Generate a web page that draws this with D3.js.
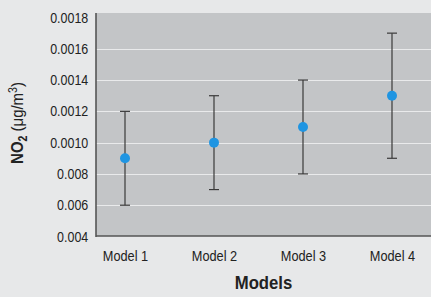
<!DOCTYPE html>
<html>
<head>
<meta charset="utf-8">
<script src="https://cdn.jsdelivr.net/npm/d3@7"></script>
<style>
  html, body { margin: 0; padding: 0; background: #e7e8e9; }
  svg { display: block; }
  text { font-family: "Liberation Sans", Arial, sans-serif; fill: #222; }
</style>
</head>
<body>
<svg width="431" height="297"></svg>
<script>
// data
var models = ["Model 1", "Model 2", "Model 3", "Model 4"];
var means = [0.0009, 0.0010, 0.0011, 0.0013];
var lows = [0.0006, 0.0007, 0.0008, 0.0009];
var highs = [0.0012, 0.0013, 0.0014, 0.0017];
var tickValues = [0.0004, 0.0006, 0.0008, 0.0010, 0.0012, 0.0014, 0.0016, 0.0018];
var tickLabels = ["0.004", "0.006", "0.008", "0.0010", "0.0012", "0.0014", "0.0016", "0.0018"];

var svg = d3.select("svg");
var plot = { left: 96, right: 431, top: 13, bottom: 236 };

var x = d3.scalePoint().domain(models).range([125, 392]);
var y = d3.scaleLinear().domain([0.0004, 0.0018]).range([236.5, 17.5]);

// plot background
svg.append("rect")
    .attr("x", plot.left)
    .attr("y", plot.top)
    .attr("width", plot.right - plot.left)
    .attr("height", plot.bottom - plot.top)
    .attr("fill", "#c3c5c7");

// white grid lines
svg.append("g")
    .selectAll("line")
    .data(tickValues.slice(1, -1))
    .enter()
    .append("line")
    .attr("x1", plot.left)
    .attr("x2", plot.right)
    .attr("y1", d => Math.round(y(d)) + 0.5)
    .attr("y2", d => Math.round(y(d)) + 0.5)
    .attr("stroke", "#e9eaeb")
    .attr("stroke-width", 1);

// axis frame lines
svg.append("line")
    .attr("x1", plot.left).attr("x2", plot.left)
    .attr("y1", plot.top).attr("y2", plot.bottom + 1)
    .attr("stroke", "#555").attr("stroke-width", 1.6);
svg.append("line")
    .attr("x1", plot.left).attr("x2", plot.right)
    .attr("y1", plot.bottom).attr("y2", plot.bottom)
    .attr("stroke", "#555").attr("stroke-width", 1.6);

// y axis labels
var yAxis = d3.axisLeft(y)
    .tickValues(tickValues)
    .tickSize(0)
    .tickPadding(9)
    .tickFormat((d, i) => tickLabels[i]);

var yg = svg.append("g")
    .attr("transform", "translate(" + plot.left + ",0)")
    .call(yAxis);
yg.select(".domain").remove();
yg.selectAll("text")
    .attr("font-size", 14.5)
    .attr("font-family", "'Liberation Sans', Arial, sans-serif")
    .attr("transform", "scale(0.86,1)")
    .attr("fill", "#333");

// x axis labels
var xAxis = d3.axisBottom(x).tickSize(0).tickPadding(15);
var xg = svg.append("g")
    .attr("transform", "translate(0," + plot.bottom + ")")
    .call(xAxis);
xg.select(".domain").remove();
xg.selectAll("text")
    .attr("font-size", 14.5)
    .attr("font-family", "'Liberation Sans', Arial, sans-serif")
    .attr("transform", "scale(0.88,1)")
    .attr("fill", "#333");

// error bars
var bars = svg.append("g")
    .selectAll("g")
    .data(models)
    .enter()
    .append("g");

bars.append("line")
    .attr("x1", d => x(d)).attr("x2", d => x(d))
    .attr("y1", (d, i) => y(highs[i])).attr("y2", (d, i) => y(lows[i]))
    .attr("stroke", "#3a3a3a").attr("stroke-width", 1.2);
bars.append("line")
    .attr("x1", d => x(d) - 5).attr("x2", d => x(d) + 5)
    .attr("y1", (d, i) => y(highs[i])).attr("y2", (d, i) => y(highs[i]))
    .attr("stroke", "#3a3a3a").attr("stroke-width", 1.2);
bars.append("line")
    .attr("x1", d => x(d) - 5).attr("x2", d => x(d) + 5)
    .attr("y1", (d, i) => y(lows[i])).attr("y2", (d, i) => y(lows[i]))
    .attr("stroke", "#3a3a3a").attr("stroke-width", 1.2);

// means
svg.append("g")
    .selectAll("circle")
    .data(models)
    .enter()
    .append("circle")
    .attr("cx", d => x(d))
    .attr("cy", (d, i) => y(means[i]))
    .attr("r", 5)
    .attr("fill", "#1f95e2");

// axis titles
svg.append("text")
    .attr("transform", "translate(" + (plot.left + plot.right) / 2 + ",289) scale(0.88,1)")
    .attr("text-anchor", "middle")
    .attr("font-size", 19)
    .attr("font-weight", "bold")
    .text("Models");

var yt = svg.append("text")
    .attr("transform", "translate(23,123) rotate(-90) scale(0.88,1)")
    .attr("text-anchor", "middle")
    .attr("font-size", 17);
yt.append("tspan").attr("font-weight", "bold").text("NO");
yt.append("tspan").attr("font-weight", "bold").attr("font-size", 12).attr("dy", 4).text("2");
yt.append("tspan").attr("dy", -4).text(" (\u03bcg/m");
yt.append("tspan").attr("font-size", 12).attr("dy", -6).text("3");
yt.append("tspan").attr("dy", 6).text(")");
</script>
</body>
</html>
